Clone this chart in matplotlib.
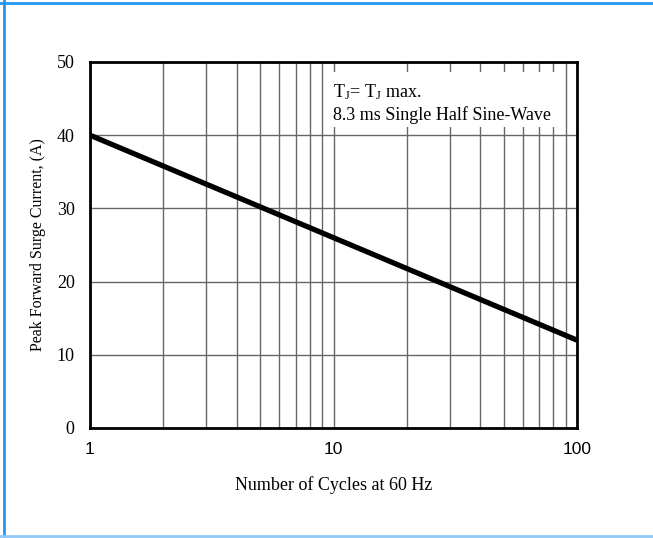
import matplotlib.pyplot as plt
from matplotlib.lines import Line2D
from matplotlib.patches import Rectangle
from matplotlib.ticker import FixedLocator, NullFormatter

plt.rcParams.update({
    "mathtext.fontset": "custom",
    "mathtext.rm": "Liberation Serif",
    "mathtext.it": "Liberation Serif:italic",
})

# data
cycles = [1, 100]
surge_current = [40, 12]
y_ticks = [0, 10, 20, 30, 40, 50]
x_ticks = [1, 10, 100]
x_minor = [2, 3, 4, 5, 6, 7, 8, 9, 20, 30, 40, 50, 60, 70, 80, 90]

fig = plt.figure(figsize=(6.53, 5.38), dpi=100)
ax = fig.add_axes([90 / 653, 110 / 538, 487 / 653, 366 / 538])

ax.set_xscale("log")
ax.set_xlim(1, 100)
ax.set_ylim(0, 50)
ax.plot(cycles, surge_current, color="black", lw=3.8, solid_capstyle="butt", zorder=5)

ax.xaxis.set_major_locator(FixedLocator(x_ticks))
ax.xaxis.set_minor_locator(FixedLocator(x_minor))
ax.xaxis.set_minor_formatter(NullFormatter())
ax.set_xticklabels(["1", "10", "100"], family="Liberation Sans", fontsize=12.5)
ax.set_yticks(y_ticks)
ax.set_yticklabels([str(v) for v in y_ticks], family="Liberation Serif", fontsize=13)
ax.tick_params(which="both", length=0, pad=10)
ax.tick_params(axis="y", pad=11)

ax.grid(True, which="both", color="#666666", lw=1)
ax.set_axisbelow(True)
for s in ax.spines.values():
    s.set_linewidth(2)
    s.set_zorder(6)

ax.set_xlabel("Number of Cycles at 60 Hz", family="Liberation Serif", fontsize=13, labelpad=14)
ax.set_ylabel("Peak Forward Surge Current, (A)", family="Liberation Serif", fontsize=11.5, labelpad=8)

# text box
ax.add_patch(Rectangle((0.497, 0.822), 0.468, 0.151, transform=ax.transAxes,
                       facecolor="white", edgecolor="none", zorder=3))
ax.text(0.498, 0.945, r"T$_{\rm J}$= T$_{\rm J}$ max." + "\n8.3 ms Single Half Sine-Wave",
        transform=ax.transAxes, ha="left", va="top", family="Liberation Serif",
        fontsize=13, linespacing=1.3, zorder=4)

# figure border
fig.add_artist(Line2D([4 / 653, 4 / 653], [0, 1], color="#2196F3", lw=2))
fig.add_artist(Line2D([0, 1], [1 - 3 / 538, 1 - 3 / 538], color="#2196F3", lw=2))
fig.add_artist(Line2D([0, 1], [1 - 536 / 538, 1 - 536 / 538], color="#90CAF9", lw=2))

fig.savefig("out.png", dpi=100)
